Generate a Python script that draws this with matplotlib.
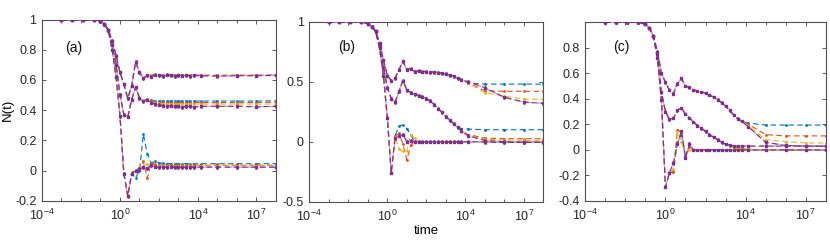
import matplotlib.pyplot as plt
import matplotlib.ticker as mticker
import numpy as np

plt.rcParams['font.family'] = ['Liberation Sans', 'DejaVu Sans']
plt.rcParams['mathtext.fontset'] = 'custom'
plt.rcParams['mathtext.rm'] = 'Liberation Sans'
plt.rcParams['mathtext.it'] = 'Liberation Sans:italic'

# sampling times (same for every curve)
time = [1e-3, 3.5e-3, 1.26e-2, 4.5e-2, 0.1, 0.158, 0.251, 0.398, 0.631, 1.0,
        1.58, 2.51, 3.98, 6.31, 10.0, 15.8, 25.1, 39.8, 63.1, 100.0,
        158, 251, 398, 631, 1000, 1585, 2512, 3981, 6310, 14000,
        1e5, 1e6, 1e7, 1e8]

colors = ['#0072BD', '#D95319', '#EDB120', '#7E2F8E']
names = ['blue', 'orange', 'yellow', 'purple']

# ---------------- panel (a)
a_start = [1, 1, 1, 1, 0.99, 0.97, 0.93]
a_top_head = [0.86, 0.76, 0.65, 0.57, 0.48, 0.56, 0.72, 0.65, 0.61, 0.63]
a_top_tail = {
    'blue':   [0.63, 0.635, 0.63, 0.632, 0.63, 0.63, 0.632, 0.63, 0.63, 0.63, 0.63, 0.63, 0.63, 0.63, 0.63, 0.63, 0.632],
    'orange': [0.63, 0.635, 0.63, 0.63, 0.63, 0.632, 0.63, 0.63, 0.63, 0.63, 0.63, 0.63, 0.63, 0.63, 0.63, 0.63, 0.632],
    'yellow': [0.635, 0.63, 0.63, 0.63, 0.632, 0.63, 0.63, 0.63, 0.63, 0.63, 0.63, 0.63, 0.63, 0.63, 0.63, 0.63, 0.63],
    'purple': [0.62, 0.635, 0.63, 0.625, 0.635, 0.63, 0.625, 0.63, 0.628, 0.632, 0.625, 0.63, 0.628, 0.625, 0.628, 0.628, 0.63],
}
a_mid_head = [0.83, 0.70, 0.50, 0.37, 0.355, 0.47, 0.55, 0.48, 0.46, 0.47]
a_mid_tail = {
    'blue':   [0.465, 0.46, 0.462, 0.46, 0.46, 0.46, 0.46, 0.46, 0.46, 0.46, 0.46, 0.46, 0.46, 0.46, 0.46, 0.46, 0.462],
    'orange': [0.46, 0.455, 0.45, 0.452, 0.45, 0.45, 0.45, 0.45, 0.45, 0.45, 0.45, 0.45, 0.45, 0.45, 0.45, 0.45, 0.452],
    'yellow': [0.455, 0.45, 0.445, 0.44, 0.44, 0.44, 0.44, 0.44, 0.44, 0.44, 0.44, 0.44, 0.44, 0.44, 0.44, 0.44, 0.44],
    'purple': [0.45, 0.44, 0.435, 0.43, 0.425, 0.43, 0.425, 0.425, 0.42, 0.425, 0.425, 0.42, 0.425, 0.425, 0.425, 0.422, 0.425],
}
a_bot_head = [0.80, 0.62, 0.36, -0.02, -0.17]
a_bot_tail = {
    'blue':   [-0.02, -0.05, 0.0, 0.24, 0.11, 0.05, 0.06, 0.05, 0.048, 0.046, 0.045, 0.045, 0.045, 0.045, 0.045, 0.045, 0.045, 0.045, 0.045, 0.045, 0.045, 0.045],
    'orange': [-0.01, 0.0, 0.01, 0.06, -0.05, 0.05, 0.04, 0.035, 0.035, 0.035, 0.035, 0.035, 0.035, 0.035, 0.035, 0.035, 0.035, 0.035, 0.035, 0.035, 0.035, 0.035],
    'yellow': [-0.01, 0.0, 0.02, 0.03, 0.04, 0.035, 0.03, 0.03, 0.03, 0.03, 0.03, 0.03, 0.03, 0.03, 0.03, 0.03, 0.03, 0.03, 0.03, 0.03, 0.03, 0.03],
    'purple': [-0.02, 0.0, 0.01, 0.02, 0.015, 0.035, 0.025, 0.02, 0.022, 0.02, 0.025, 0.02, 0.022, 0.02, 0.022, 0.02, 0.022, 0.022, 0.022, 0.022, 0.022, 0.022],
}

# ---------------- panel (b)
b_start = [1, 1, 1, 1, 0.985, 0.96, 0.92]
b_top_head = [0.82, 0.68, 0.55, 0.51, 0.53, 0.60, 0.67, 0.60, 0.61, 0.585, 0.59,
              0.585, 0.585, 0.58, 0.58, 0.575, 0.57, 0.565, 0.555, 0.545, 0.53, 0.515]
b_top_tail = {
    'blue':   [0.49, 0.48, 0.48, 0.48, 0.48],
    'orange': [0.49, 0.425, 0.42, 0.42, 0.42],
    'yellow': [0.49, 0.41, 0.38, 0.355, 0.355],
    'purple': [0.50, 0.45, 0.37, 0.33, 0.32],
}
b_mid_head = [0.80, 0.62, 0.45, 0.36, 0.33, 0.42, 0.51, 0.43, 0.41, 0.395, 0.385,
              0.375, 0.36, 0.34, 0.31, 0.275, 0.245, 0.21, 0.18, 0.15, 0.12]
b_mid_tail = {
    'blue':   [0.11, 0.105, 0.10, 0.10, 0.10, 0.10],
    'orange': [0.09, 0.06, 0.03, 0.025, 0.025, 0.025],
    'yellow': [0.085, 0.05, 0.02, 0.015, 0.012, 0.012],
    'purple': [0.09, 0.05, 0.01, 0.0, -0.005, -0.005],
}
b_bot_head = [0.78, 0.55, 0.20, -0.26]
b_bot_tail = {
    'blue':   [0.05, 0.13, 0.14, 0.11, 0.06, 0.0, 0.0, 0.0, 0.0, 0.0, 0.0, 0.0, 0.0, 0.0, 0.0, 0.0, 0.0, 0.0, 0.0, 0.0, 0.0, 0.0, 0.0],
    'orange': [0.05, 0.07, -0.02, -0.15, -0.03, 0.0, 0.0, 0.0, 0.0, 0.0, 0.0, 0.0, 0.0, 0.0, 0.0, 0.0, 0.0, 0.0, 0.0, 0.0, 0.0, 0.0, 0.0],
    'yellow': [0.04, -0.06, -0.08, -0.08, 0.06, 0.03, 0.0, 0.0, 0.0, 0.0, 0.0, 0.0, 0.0, 0.0, 0.0, 0.0, 0.0, 0.0, 0.0, 0.0, 0.0, 0.0, 0.0],
    'purple': [0.03, 0.05, 0.06, 0.0, 0.01, 0.0, 0.0, 0.0, 0.0, 0.0, 0.0, 0.0, 0.0, 0.0, 0.0, 0.0, 0.0, 0.0, 0.0, -0.003, -0.005, -0.005, -0.005],
}

# ---------------- panel (c)
c_start = [1, 1, 1, 1, 0.985, 0.955, 0.89]
c_top_head = [0.77, 0.60, 0.53, 0.47, 0.44, 0.52, 0.56, 0.50, 0.49, 0.47, 0.46,
              0.455, 0.445, 0.43, 0.415, 0.395, 0.37, 0.345, 0.31, 0.275, 0.245, 0.225]
c_top_tail = {
    'blue':   [0.21, 0.195, 0.195, 0.195, 0.195],
    'orange': [0.20, 0.12, 0.11, 0.11, 0.11],
    'yellow': [0.19, 0.08, 0.065, 0.055, 0.055],
    'purple': [0.18, 0.06, 0.035, 0.03, 0.03],
}
c_mid_head = [0.75, 0.45, 0.30, 0.24, 0.25, 0.31, 0.33, 0.28, 0.25, 0.22, 0.19,
              0.17, 0.145, 0.12, 0.10, 0.08, 0.06, 0.045, 0.035]
c_mid_tail = {
    'blue':   [0.025, 0.015, 0.01, 0.005, 0.0, 0.0, 0.0, 0.0],
    'orange': [0.025, 0.015, 0.01, 0.005, 0.0, 0.0, 0.0, 0.0],
    'yellow': [0.022, 0.012, 0.008, 0.004, 0.0, 0.0, 0.0, 0.0],
    'purple': [0.03, 0.03, 0.03, 0.03, 0.03, 0.03, 0.03, 0.03],
}
c_bot_head = [0.72, 0.39, -0.29, -0.18]
c_bot_tail = {
    'blue':   [-0.17, 0.06, 0.12, -0.05, 0.03, 0.0, 0.0, 0.0, 0.0, 0.0, 0.0, 0.0, 0.0, 0.0, 0.0, 0.0, 0.0, 0.0, 0.0, 0.0, 0.0, 0.0, 0.0],
    'orange': [-0.17, 0.16, 0.14, -0.06, 0.02, 0.0, 0.0, 0.0, 0.0, 0.0, 0.0, 0.0, 0.0, 0.0, 0.0, 0.0, 0.0, 0.0, 0.0, 0.0, 0.0, 0.0, 0.0],
    'yellow': [-0.15, 0.14, 0.06, -0.03, 0.0, 0.0, 0.0, 0.0, 0.0, 0.0, 0.0, 0.0, 0.0, 0.0, 0.0, 0.0, 0.0, 0.0, 0.0, 0.0, 0.0, 0.0, 0.0],
    'purple': [-0.10, 0.05, 0.15, -0.06, 0.05, 0.0, 0.0, 0.0, 0.0, 0.0, 0.0, 0.0, 0.0, 0.0, 0.0, 0.0, 0.0, 0.0, 0.0, 0.0, 0.0, 0.0, 0.0],
}

panels = [
    dict(label='(a)', start=a_start,
         groups=[(a_top_head, a_top_tail), (a_mid_head, a_mid_tail), (a_bot_head, a_bot_tail)],
         ylim=(-0.2, 1), yticks=[-0.2, 0, 0.2, 0.4, 0.6, 0.8, 1],
         pos=[0.0506, 0.1808, 0.2819, 0.7396], lab=(0.098, 0.84), err=0.01),
    dict(label='(b)', start=b_start,
         groups=[(b_top_head, b_top_tail), (b_mid_head, b_mid_tail), (b_bot_head, b_bot_tail)],
         ylim=(-0.5, 1), yticks=[-0.5, 0, 0.5, 1],
         pos=[0.3727, 0.1767, 0.2819, 0.7347], lab=(0.123, 0.857), err=0.012),
    dict(label='(c)', start=c_start,
         groups=[(c_top_head, c_top_tail), (c_mid_head, c_mid_tail), (c_bot_head, c_bot_tail)],
         ylim=(-0.4, 1), yticks=[-0.4, -0.2, 0, 0.2, 0.4, 0.6, 0.8],
         pos=[0.7052, 0.1796, 0.2896, 0.7294], lab=(0.115, 0.86), err=0.01),
]

dash = (0, (5, 3))
fig = plt.figure(figsize=(8.3, 2.45), dpi=100)

for p in panels:
    ax = fig.add_axes(p['pos'])
    for name, col in zip(names, colors):
        for head, tail in p['groups']:
            y = p['start'] + head + tail[name]
            if name == 'purple':
                ax.plot(time, y, color='#c9a2cc', lw=1.0, ls=(4, (5, 3)), zorder=3)
                ax.errorbar(time, y, yerr=p['err'], fmt='s', ms=1.6, color=col,
                            elinewidth=0.5, capsize=0.8, capthick=0.5, zorder=4)
                ax.plot(time, y, color=col, lw=0.8, ls=dash, zorder=4)
            else:
                ax.plot(time, y, color=col, lw=0.8, ls=dash, marker='o', ms=2.0,
                        mew=0, zorder=2)
    ax.set_xscale('log')
    ax.set_xlim(1e-4, 1e8)
    ax.set_ylim(*p['ylim'])
    ax.set_yticks(p['yticks'])
    ax.yaxis.set_major_formatter(mticker.FuncFormatter(lambda v, _: f'{v:g}'))
    ax.set_xticks([1e-4, 1e0, 1e4, 1e7])
    ax.set_xticklabels([r'$10^{-4}$', r'$10^{0}$', r'$10^{4}$', r'$10^{7}$'])
    ax.xaxis.set_minor_locator(mticker.FixedLocator([10.0 ** k for k in range(-4, 9)]))
    ax.xaxis.set_minor_formatter(mticker.NullFormatter())
    ax.tick_params(which='both', direction='in', top=True, right=True,
                   labelsize=9, labelcolor='#262626', color='#404040', width=0.6)
    ax.tick_params(which='major', length=3)
    ax.tick_params(axis='x', which='major', pad=5)
    ax.tick_params(axis='y', which='major', pad=4)
    ax.tick_params(which='minor', length=2)
    for s in ax.spines.values():
        s.set_color('#505050')
        s.set_linewidth(0.8)
    ax.text(p['lab'][0], p['lab'][1], p['label'], transform=ax.transAxes,
            fontsize=10, color='#111111', va='center', ha='left')
    if p['label'] == '(a)':
        ax.set_ylabel('N(t)', fontsize=9.5, labelpad=1)
    if p['label'] == '(b)':
        ax.set_xlabel('time', fontsize=9.5, labelpad=1)

fig.savefig('out.png', dpi=100)
